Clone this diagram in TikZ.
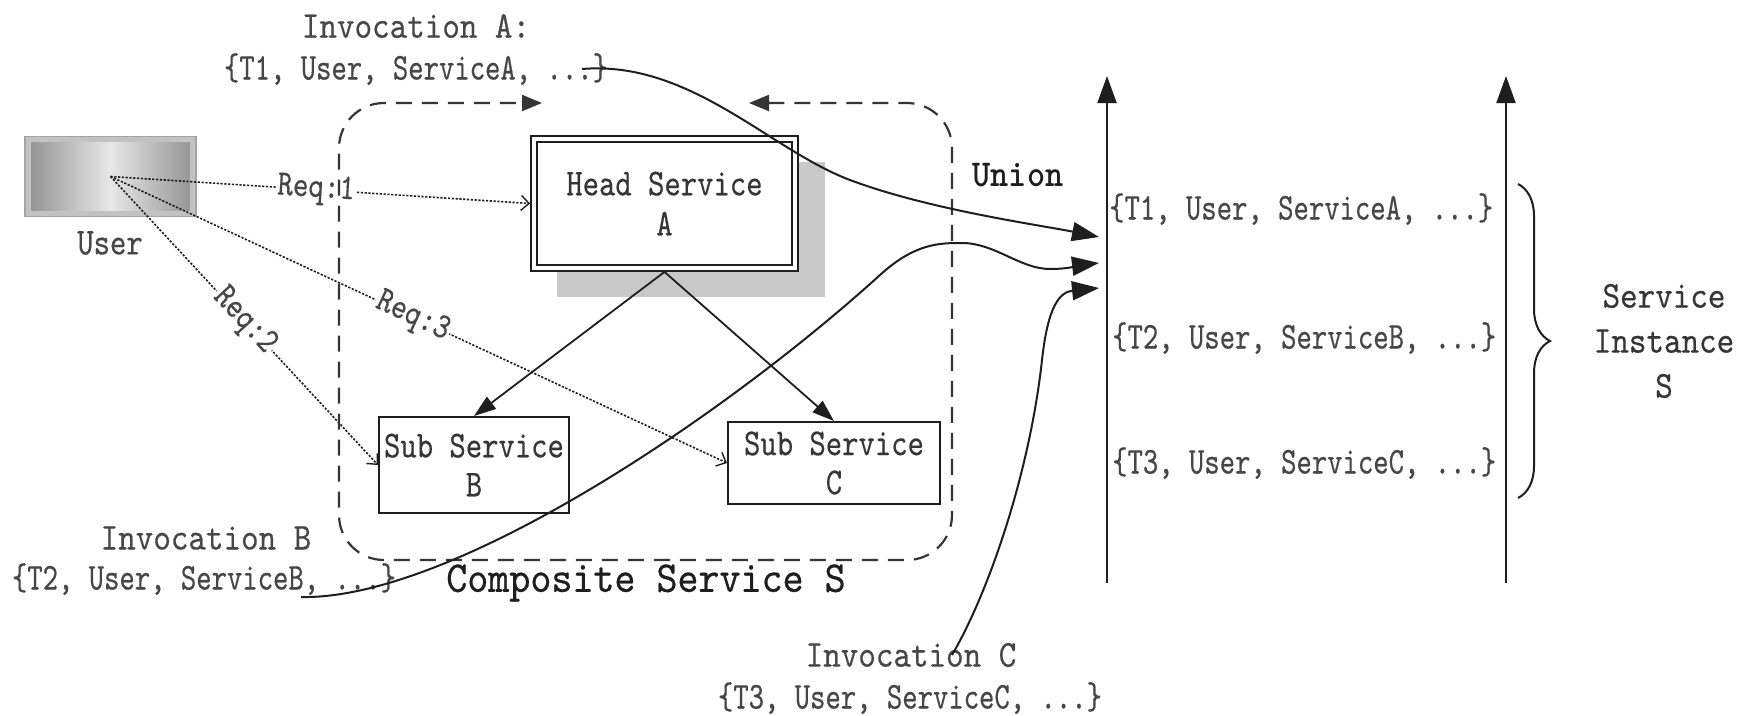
\documentclass[tikz,border=0pt]{standalone}
\usepackage{fontspec}
\usetikzlibrary{arrows.meta,decorations.pathreplacing}

% narrow typewriter faces (monospaced, condensed to different degrees)
\newfontfamily\fontrow{lmmono10-regular.otf}[FakeStretch=0.77, FakeBold=0.4]
\newfontfamily\fontbox{lmmono10-regular.otf}[FakeStretch=0.82, FakeBold=0.4]
\newfontfamily\fontinst{lmmono10-regular.otf}[FakeStretch=0.88, FakeBold=0.4]
\newfontfamily\fontcomp{lmmono10-regular.otf}[FakeStretch=0.91, FakeBold=0.5]
\newfontfamily\fontunion{lmmonolt10-bold.otf}[FakeStretch=0.91]

\definecolor{ink}{HTML}{1E1E1E}
\definecolor{notegray}{HTML}{474747}
\definecolor{boxtext}{HTML}{363636}
\definecolor{shadowgray}{HTML}{C9C9C9}
\definecolor{userrim}{HTML}{C2C2C2}
\definecolor{userframe}{HTML}{A5A5A5}
\definecolor{userdark}{HTML}{979797}
\definecolor{userlight}{HTML}{E8E8E8}

\tikzset{
  bigtip/.tip={Triangle[length=27pt,width=19pt]},
  midtip/.tip={Triangle[length=22pt,width=15pt]},
  dashtip/.tip={Triangle[length=20pt,width=16pt]},
  opentip/.tip={Straight Barb[length=8pt,width=15pt,line width=1.4pt]},
}

\begin{document}
\begin{tikzpicture}[x=1pt,y=-1pt,
  annot/.style={inner sep=0pt, text=notegray, font=\fontsize{38}{43}\fontrow},
  invname/.style={inner sep=0pt, text=notegray, font=\fontsize{38}{43}\fontinst},
  boxlabel/.style={inner sep=0pt, align=center, text=boxtext},
  headbox/.style={draw=ink, line width=1.8pt, fill=white, minimum width=267pt,
    minimum height=135pt, align=center, text=boxtext, inner sep=0pt,
    font=\fontsize{38}{40}\fontbox},
  subbox/.style={draw=ink, line width=2pt, fill=white, align=center,
    text=boxtext, inner sep=0pt, font=\fontsize{38}{39}\fontbox},
  userbox/.style={fill=userrim, draw=userframe, line width=1.5pt,
    minimum width=171pt, minimum height=80pt, inner sep=0pt},
  reqline/.style={draw=ink, line width=1.6pt, dash pattern=on 2.2pt off 1.6pt, -opentip},
  reqlabel/.style={fill=white, inner sep=1.5pt, text=notegray, sloped,
    font=\fontsize{36}{40}\fontbox},
  treeline/.style={draw=ink, line width=1.8pt, -midtip},
  flowcurve/.style={draw=ink, line width=2pt, -bigtip},
  axisline/.style={draw=ink, line width=2pt, -bigtip},
  compline/.style={draw=ink!90, line width=2.2pt, dash pattern=on 16pt off 10pt,
    rounded corners=45pt, dashtip-dashtip},
  bracestyle/.style={draw=ink, line width=2pt, decorate,
    decoration={brace, amplitude=32pt}},
]

% canvas
\fill[white] (0,0) rectangle (1750,715);
\useasboundingbox (0,0) rectangle (1750,715);

% ---------------- user ----------------
\node[userbox] (user) at (110.5,176.5) {};
\shade[left color=userdark, right color=userdark, middle color=userlight]
  ([shift={(7,7)}]user.north west) rectangle ([shift={(-7,-7)}]user.south east);
\node[boxlabel, text=notegray, font=\fontsize{38}{40}\fontbox] (userlabel) at (110,243) {User};

% ---------------- services ----------------
\fill[shadowgray] (557,162) rectangle (825,297);
\node[headbox] (head) at (664.5,203.5) {Head Service\\A};
\draw[ink, line width=2.6pt]
  ([shift={(7,7)}]head.north west) rectangle ([shift={(-7,-7)}]head.south east);

\node[subbox, minimum width=190pt, minimum height=96pt] (subB) at (474,465) {Sub Service\\B};
\node[subbox, minimum width=212pt, minimum height=82pt] (subC) at (834,463) {Sub Service\\C};

\draw[treeline] (head.south) -- (subB.north);
\draw[treeline] (head.south) -- (subC.north);

% ---------------- requests ----------------
\draw[reqline] (user.center) -- node[reqlabel, pos=0.49] (req1) {Req:1} (head.west);
\draw[reqline] (user.center) -- node[reqlabel, pos=0.5] (req2) {Req:2} (subB.west);
\draw[reqline] (user.center) -- node[reqlabel, pos=0.49] (req3) {Req:3} (subC.west);

% ---------------- composite boundary ----------------
\coordinate (gapR) at (749,103);
\coordinate (gapL) at (542,103);
\draw[compline] (gapR) -- (952,103) -- (952,560) -- (339,560) -- (339,103) -- (gapL);
\node[inner sep=0pt, text=ink, font=\fontsize{44}{46}\fontcomp] (compname) at (646,583) {Composite Service S};
\node[inner sep=0pt, text=ink, font=\fontsize{38}{40}\fontunion] (union) at (1018,175) {Union};

% ---------------- invocation notes ----------------
\node[invname] (invAname) at (416,26) {Invocation A:};
\node[annot] (invAset) at (416,69) {\{T1, User, ServiceA, ...\}};
\node[invname] (invBname) at (206,538) {Invocation B};
\node[annot] (invBset) at (204,579) {\{T2, User, ServiceB, ...\}};
\node[invname] (invCname) at (911,655) {Invocation C};
\node[annot] (invCset) at (910,698) {\{T3, User, ServiceC, ...\}};

% ---------------- time axes ----------------
\coordinate (axisAbot) at (1107,583);
\coordinate (axisAtop) at (1107,76);
\coordinate (axisBbot) at (1506,583);
\coordinate (axisBtop) at (1506,76);
\draw[axisline] (axisAbot) -- (axisAtop);
\draw[axisline] (axisBbot) -- (axisBtop);

\node[annot, anchor=west] (rowA) at (1109,209) {\{T1, User, ServiceA, ...\}};
\node[annot, anchor=west] (rowB) at (1112,338) {\{T2, User, ServiceB, ...\}};
\node[annot, anchor=west] (rowC) at (1112,463) {\{T3, User, ServiceC, ...\}};

\coordinate (braceTop) at (1518,184);
\coordinate (braceBot) at (1518,498);
\draw[bracestyle] (braceTop) -- (braceBot);
\node[boxlabel, text=boxtext, font=\fontsize{38}{45}\fontinst] (instance) at (1664,341)
  {Service\\Instance\\S};

% ---------------- invocation flows ----------------
\coordinate (srcA) at (582,69);
\coordinate (tipA) at (1099,237);
\coordinate (srcB) at (301,597);
\coordinate (tipB) at (1099,263);
\coordinate (srcC) at (952,655);
\coordinate (tipC) at (1099,288);

\draw[flowcurve] (srcA) .. controls (690,60) and (770,150) .. (850,180)
  .. controls (930,210) and (1040,225) .. (tipA);
\draw[flowcurve] (srcB) .. controls (450,600) and (720,420) .. (880,275)
  .. controls (915,243) and (940,243) .. (962,243)
  .. controls (995,243) and (1020,269) .. (1050,269)
  .. controls (1070,269) and (1082,265) .. (tipB);
\draw[flowcurve] (srcC) .. controls (990,590) and (1030,470) .. (1042,360)
  .. controls (1048,305) and (1060,292) .. (tipC);

\end{tikzpicture}
\end{document}
